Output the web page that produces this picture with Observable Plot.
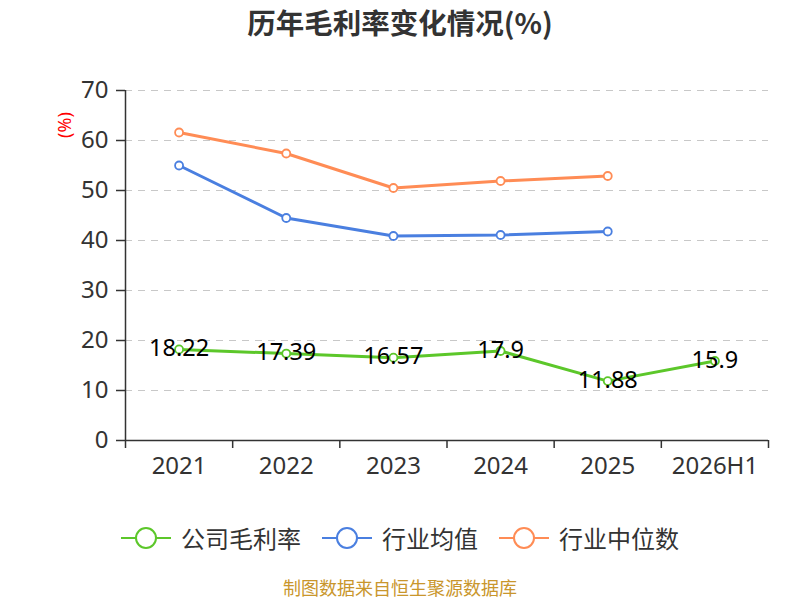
<!DOCTYPE html>
<html>
<head>
<meta charset="utf-8">
<script src="https://cdn.jsdelivr.net/npm/d3@7"></script>
<script src="https://cdn.jsdelivr.net/npm/@observablehq/plot@0.6"></script>
<style>
  html, body { margin: 0; padding: 0; background: #fff; }
  #wrap { position: relative; width: 800px; height: 600px; overflow: hidden; font-family: "Noto Sans", "Noto Sans CJK SC", sans-serif; }
  #title { position: absolute; top: 2px; left: 0; width: 800px; text-align: center; font-family: "Noto Sans CJK SC", sans-serif; font-weight: bold; font-size: 28.5px; color: #333; line-height: 40px; }
  #ylabel { position: absolute; left: 64px; top: 125px; transform: translate(-50%, -50%) rotate(-90deg); color: #f00; font-size: 18px; font-family: "Noto Sans", sans-serif; white-space: nowrap; }
  #chart { position: absolute; top: 0; left: 0; }
  #legend { position: absolute; top: 518px; left: 0; width: 800px; display: flex; justify-content: center; align-items: center; gap: 21px; font-family: "Noto Sans CJK SC", sans-serif; font-size: 24px; color: #333; line-height: 40px; }
  .item { display: flex; align-items: center; gap: 10px; }
  #caption { position: absolute; top: 578px; left: 0; width: 800px; text-align: center; font-family: "Noto Sans CJK SC", sans-serif; font-size: 18px; color: #c9962c; line-height: 18px; }
</style>
</head>
<body>
<div id="wrap">
  <div id="title">历年毛利率变化情况(%)</div>
  <div id="chart"></div>
  <div id="ylabel">(%)</div>
  <div id="legend"></div>
  <div id="caption">制图数据来自恒生聚源数据库</div>
</div>
<script>
const years = ["2021", "2022", "2023", "2024", "2025", "2026H1"];
const companyMargin = [18.22, 17.39, 16.57, 17.9, 11.88, 15.9];
const industryMean = [55.0, 44.5, 40.9, 41.1, 41.8];
const industryMedian = [61.6, 57.4, 50.5, 51.9, 52.9];
const yTicks = [0, 10, 20, 30, 40, 50, 60, 70];

const seriesNames = ["公司毛利率", "行业均值", "行业中位数"];
const seriesColors = ["#5cc72a", "#4a7fe0", "#ff8c55"];

const toRows = (vals, name) => vals.map((v, i) => ({i, year: years[i], value: v, series: name}));
const compRows = toRows(companyMargin, seriesNames[0]);
const meanRows = toRows(industryMean, seriesNames[1]);
const medRows = toRows(industryMedian, seriesNames[2]);

const boundaries = d3.range(years.length + 1).map(k => k - 0.5);

const chart = Plot.plot({
  width: 800,
  height: 500,
  marginTop: 90,
  marginBottom: 60,
  marginLeft: 125,
  marginRight: 32,
  style: {fontFamily: "'Noto Sans', sans-serif", background: "transparent", overflow: "visible"},
  x: {type: "linear", domain: [-0.5, years.length - 0.5]},
  y: {domain: [0, 70]},
  marks: [
    Plot.gridY(yTicks.filter(t => t > 0), {stroke: "#c8c8c8", strokeOpacity: 1, strokeDasharray: "7,6", strokeWidth: 1.2}),
    Plot.axisY(yTicks, {tickSize: 9, tickPadding: 8, fontSize: 24, fill: "#333", stroke: "#333", strokeWidth: 1.5, label: null, tickFormat: d => d}),
    Plot.ruleX([-0.5], {y1: 0, y2: 70, stroke: "#333", strokeWidth: 1.5}),
    Plot.ruleY([0], {stroke: "#333", strokeWidth: 1.5}),
    Plot.axisX(boundaries, {tickSize: 8, tickFormat: () => "", stroke: "#333", strokeWidth: 1.5, label: null}),
    Plot.axisX(d3.range(years.length), {tickSize: 0, tickPadding: 16, fontSize: 24, fill: "#333", tickFormat: i => years[i], label: null}),
    Plot.line(medRows, {x: "i", y: "value", stroke: seriesColors[2], strokeWidth: 3}),
    Plot.line(meanRows, {x: "i", y: "value", stroke: seriesColors[1], strokeWidth: 3}),
    Plot.line(compRows, {x: "i", y: "value", stroke: seriesColors[0], strokeWidth: 3}),
    Plot.dot(medRows, {x: "i", y: "value", r: 4, fill: "#fff", stroke: seriesColors[2], strokeWidth: 1.8}),
    Plot.dot(meanRows, {x: "i", y: "value", r: 4, fill: "#fff", stroke: seriesColors[1], strokeWidth: 1.8}),
    Plot.dot(compRows, {x: "i", y: "value", r: 4, fill: "#fff", stroke: seriesColors[0], strokeWidth: 1.8}),
    Plot.text(compRows, {x: "i", y: "value", text: d => String(d.value), fontSize: 23.5, fill: "#000", lineAnchor: "middle", dy: -1})
  ]
});
document.getElementById("chart").appendChild(chart);

const legend = document.getElementById("legend");
seriesNames.forEach((name, k) => {
  const item = document.createElement("div");
  item.className = "item";
  const c = seriesColors[k];
  item.innerHTML = `<svg width="50" height="24" viewBox="0 0 50 24"><line x1="0" y1="12" x2="50" y2="12" stroke="${c}" stroke-width="2"/><circle cx="25" cy="12" r="10" fill="#fff" stroke="${c}" stroke-width="2"/></svg><span>${name}</span>`;
  legend.appendChild(item);
});
</script>
</body>
</html>
